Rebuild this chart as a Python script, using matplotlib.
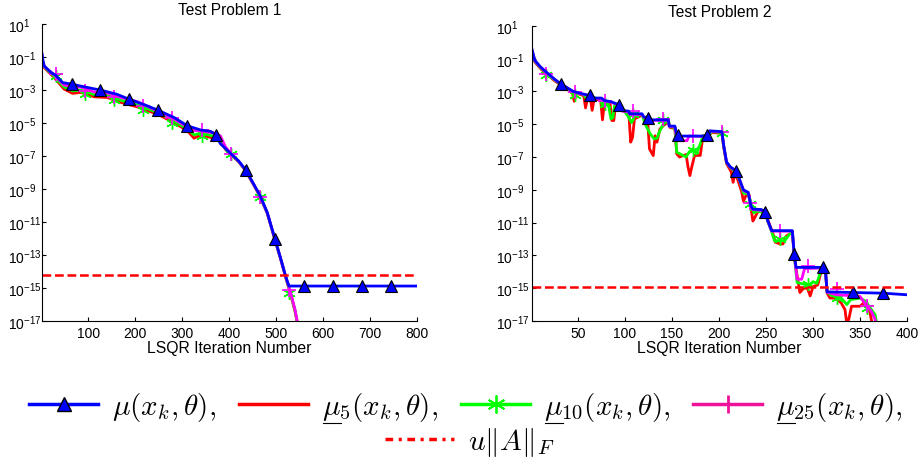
import numpy as np
import matplotlib
matplotlib.use("Agg")
import matplotlib.pyplot as plt
from matplotlib.lines import Line2D
from matplotlib.ticker import FixedLocator, FuncFormatter, NullLocator

plt.rcParams['font.family'] = 'Liberation Sans'
plt.rcParams['mathtext.fontset'] = 'cm'

# All y values below are log10 of the plotted quantity.

# ---------------- Test Problem 1 ----------------
p1_mu_x = [1, 3, 6, 20, 30, 45, 64, 90, 125, 160, 186, 220, 248, 282, 311, 340, 360, 372,
           381, 392, 405, 420, 435, 452, 466, 481, 497, 509, 520, 527, 800]
p1_mu = [-0.8, -1.2, -1.55, -1.93, -2.1, -2.55, -2.64, -2.8, -3.0, -3.25, -3.55, -3.9, -4.22,
         -4.66, -5.17, -5.43, -5.5, -5.72, -6.25, -6.55, -6.9, -7.3, -7.84, -8.7, -9.42,
         -10.43, -12.0, -13.16, -14.27, -14.88, -14.88]

p1_low_x = [1, 3, 6, 27, 48, 66, 84, 112, 140, 169, 204, 247, 282, 311, 325, 339, 367, 381,
            392, 405, 420, 435, 452, 466, 481, 497, 509, 520, 530, 540, 548]
p1_mu5 = [-1.0, -1.4, -1.65, -2.24, -2.94, -3.2, -3.14, -3.41, -3.45, -3.75, -4.02, -4.46,
          -4.97, -5.47, -5.92, -5.72, -5.92, -5.96, -6.6, -6.95, -7.35, -7.9, -8.75, -9.47,
          -10.48, -12.05, -13.2, -14.35, -15.3, -16.4, -17.5]
p1_mu10 = [-0.95, -1.35, -1.6, -2.17, -2.82, -3.05, -3.0, -3.28, -3.32, -3.62, -3.9, -4.36,
           -4.87, -5.38, -5.72, -5.6, -5.8, -5.9, -6.57, -6.93, -7.33, -7.88, -8.73, -9.45,
           -10.46, -12.03, -13.18, -14.3, -15.25, -16.35, -17.5]
p1_mu25 = [-0.88, -1.3, -1.58, -2.08, -2.7, -2.8, -2.82, -3.12, -3.18, -3.45, -3.7, -4.28,
           -4.75, -5.25, -5.45, -5.48, -5.6, -5.78, -6.45, -6.9, -7.32, -7.86, -8.72, -9.44,
           -10.45, -12.02, -13.17, -14.3, -15.2, -16.3, -17.5]

p1_tri_x = [64, 125, 186, 248, 311, 372, 435, 497, 559, 621, 683, 745]
p1_tri = [-2.64, -3.0, -3.55, -4.22, -5.17, -5.72, -7.84, -12.0, -14.88, -14.88, -14.88, -14.88]
p1_sym_x = [31, 93, 155, 216, 279, 342, 403, 466, 528]
p1_star = [-2.14, -3.25, -3.61, -4.22, -4.97, -5.78, -6.89, -9.5, -15.28]
p1_plus = [-2.03, -3.05, -3.43, -3.96, -4.7, -5.43, -6.85, -9.48, -15.1]
p1_tol = -14.24

# ---------------- Test Problem 2 ----------------
p2_mu_x = [1, 4, 10, 16, 25, 31.6, 45, 55, 62.5, 65, 75, 78, 85, 93.7, 97, 104, 105, 118, 120,
           124.6, 128, 146, 147, 153, 155, 157, 189, 190, 203, 205, 208, 212, 218, 222, 226,
           231, 234, 236, 245, 249, 252, 256, 278, 280, 282, 313, 315, 340, 374, 400]
p2_mu = [-0.45, -1.1, -1.5, -1.81, -2.25, -2.53, -3.0, -3.15, -3.24, -3.4, -3.4, -3.55, -3.62,
         -3.81, -4.16, -4.2, -4.36, -4.36, -4.55, -4.62, -4.73, -4.73, -5.11, -5.11, -5.6,
         -5.72, -5.72, -5.4, -5.45, -6.3, -7.3, -7.6, -7.83, -8.4, -9.0, -9.15, -10.0, -10.17,
         -10.2, -10.33, -10.9, -11.49, -11.49, -12.92, -13.73, -13.73, -15.22, -15.26, -15.3,
         -15.4]

p2_mu5_x = [1, 4, 10, 16, 25, 31.6, 44, 46, 48, 56, 58, 60, 63, 65, 67, 74, 76, 78, 84, 86,
            88, 90, 95, 99, 104, 106, 108, 110, 118, 124, 126, 130, 132, 134, 137, 141, 146,
            148, 153, 155, 158, 162, 165, 167, 169, 171, 174, 180, 183, 189, 192, 203, 205,
            208, 213, 215, 217, 220, 224, 226, 229, 232, 234, 236, 238, 241, 245, 250, 253,
            257, 260, 265, 268, 272, 278, 280, 283, 286, 290, 294, 297, 300, 305, 309, 313,
            315, 318, 324, 330, 334, 336, 338, 341, 350, 356, 360, 364]
p2_mu5 = [-0.55, -1.2, -1.6, -1.9, -2.35, -2.6, -3.1, -3.6, -3.1, -3.25, -4.0, -3.4, -3.4,
          -4.15, -3.5, -3.5, -4.73, -3.7, -3.7, -4.77, -4.77, -3.8, -3.9, -4.2, -4.3, -6.09,
          -5.8, -4.67, -4.45, -4.75, -6.5, -6.91, -5.7, -6.09, -5.3, -5.07, -4.85, -5.2, -5.25,
          -6.8, -7.0, -6.9, -6.85, -7.6, -8.13, -7.6, -6.9, -6.9, -5.69, -5.72, -5.5, -5.55,
          -6.4, -7.4, -7.9, -8.54, -7.95, -8.4, -9.1, -9.7, -9.3, -9.3, -10.1, -10.9, -10.7,
          -10.35, -10.3, -10.5, -11.0, -11.6, -12.2, -12.3, -12.3, -11.8, -11.6, -13.0, -14.2,
          -15.26, -15.0, -15.0, -15.47, -14.9, -14.8, -13.9, -13.8, -15.3, -15.6, -15.6, -15.9,
          -16.3, -17.2, -16.9, -16.1, -16.1, -15.8, -16.3, -17.5]

p2_mu10_x = [1, 4, 10, 16, 25, 31.6, 44, 46, 48, 56, 60, 63, 74, 76, 78, 82, 85, 87, 89, 95,
             99, 103, 107, 110, 118, 122, 127, 131, 134, 137, 141, 146, 148, 153, 155, 160,
             165, 168, 172, 176, 180, 183, 189, 192, 203, 205, 208, 213, 218, 222, 226, 231,
             235, 237, 241, 249, 252, 256, 259, 265, 270, 275, 278, 280, 283, 290, 296, 300,
             304, 308, 313, 315, 320, 330, 336, 340, 350, 356, 362, 366, 369]
p2_mu10 = [-0.5, -1.15, -1.55, -1.85, -2.3, -2.57, -3.05, -3.3, -3.05, -3.2, -3.5, -3.35,
           -3.45, -3.9, -3.62, -3.7, -4.67, -4.6, -3.8, -3.85, -4.18, -4.5, -4.9, -4.5, -4.4,
           -5.07, -5.6, -5.89, -5.85, -5.4, -4.95, -4.8, -5.15, -5.2, -6.7, -6.85, -7.0, -6.7,
           -6.5, -6.8, -6.2, -5.7, -5.72, -5.45, -5.5, -6.35, -7.35, -7.7, -7.9, -8.45, -9.2,
           -9.25, -10.1, -10.4, -10.3, -10.4, -10.95, -11.55, -12.1, -12.1, -12.1, -11.7,
           -11.55, -12.95, -14.65, -14.75, -14.85, -14.6, -14.7, -14.0, -13.8, -15.25, -15.45,
           -15.6, -16.0, -15.7, -15.6, -15.8, -16.3, -16.6, -17.5]

p2_mu25_x = [1, 4, 10, 16, 25, 31.6, 45, 55, 62.5, 65, 75, 78, 85, 93.7, 97, 104, 105, 118,
             120, 124.6, 128, 146, 147, 153, 155, 166, 168, 189, 190, 203, 205, 208, 212, 218,
             222, 226, 231, 234, 236, 245, 249, 252, 256, 278, 280, 283, 288, 291, 313, 315,
             325, 340, 350, 357, 362, 366, 368]
p2_mu25 = [-0.47, -1.12, -1.52, -1.82, -2.27, -2.55, -3.02, -3.17, -3.27, -3.42, -3.45,
           -3.58, -3.65, -3.84, -4.2, -4.25, -4.4, -4.4, -4.58, -4.65, -4.76, -4.76, -5.13,
           -5.15, -6.0, -6.0, -5.72, -5.74, -5.42, -5.47, -6.32, -7.32, -7.62, -7.85, -8.42,
           -9.05, -9.18, -10.02, -10.2, -10.25, -10.36, -10.92, -11.52, -11.52, -12.94, -14.45,
           -14.45, -13.8, -13.76, -15.25, -15.4, -15.45, -15.5, -16.08, -16.4, -16.9, -17.5]

p2_tri_x = [31.6, 62.5, 93.7, 124.6, 156, 187.5, 218, 249, 280, 311, 342.4, 374]
p2_tri = [-2.53, -3.24, -3.81, -4.62, -5.64, -5.64, -7.83, -10.33, -12.92, -13.73, -15.26,
          -15.3]
p2_sym_x = [16.3, 46.6, 78.5, 108.7, 140.7, 172, 203, 233, 265, 295, 325.5, 357.5]
p2_star = [-1.98, -3.24, -3.76, -4.36, -4.71, -6.54, -5.54, -9.86, -12.0, -14.75, -15.57,
           -16.18]
p2_plus = [-1.92, -3.04, -3.55, -4.16, -4.67, -5.69, -5.48, -9.8, -11.53, -13.63, -15.06,
           -16.08]
p2_tol = -14.9

BLUE = '#0000ff'
RED = '#ff0000'
GREEN = '#00ff00'
MAGENTA = '#ff00ff'
LW = 2.0
STAR = (6, 2, 0)
W, H = 921, 464
LEG_FS = 21


def pw(v):
    return 10.0 ** np.asarray(v, dtype=float)


def sci_label(v, pos):
    e = int(round(np.log10(v)))
    return r'$\mathregular{10^{%d}}$' % e


def draw_panel(ax, mu5, mu10, mu25, mu, tri, stars, pluses, tol, xmax, xticks, title, ypad):
    ax.plot(mu5[0], pw(mu5[1]), color=RED, lw=LW)
    ax.plot(mu10[0], pw(mu10[1]), color=GREEN, lw=LW)
    ax.plot(stars[0], pw(stars[1]), ls='none', marker=STAR, ms=9, mec=GREEN, mew=1.0)
    ax.plot(mu25[0], pw(mu25[1]), color=MAGENTA, lw=LW)
    ax.plot(pluses[0], pw(pluses[1]), ls='none', marker='+', ms=10, mec=MAGENTA, mew=1.2)
    ax.plot(mu[0], pw(mu[1]), color=BLUE, lw=LW)
    ax.plot(tri[0], pw(tri[1]), ls='none', marker='^', ms=8, mfc=BLUE, mec='k', mew=0.8)
    ax.axhline(10.0 ** tol, color=RED, lw=1.8, dashes=(3.5, 1.5))

    ax.set_yscale('log')
    ax.set_ylim(1e-17, 10)
    ax.set_xlim(1, xmax)
    ax.yaxis.set_major_locator(FixedLocator(10.0 ** np.arange(1, -18, -2)))
    ax.yaxis.set_minor_locator(NullLocator())
    ax.yaxis.set_major_formatter(FuncFormatter(sci_label))
    ax.set_xticks(xticks)
    ax.tick_params(direction='in', length=3, labelsize=10, width=0.8)
    ax.tick_params(axis='y', pad=ypad)
    for lab in ax.get_yticklabels():
        lab.set_horizontalalignment('left')
    for s in ('top', 'right'):
        ax.spines[s].set_visible(False)
    ax.set_title(title, fontsize=11.2, pad=7)
    ax.set_xlabel('LSQR Iteration Number', fontsize=11.3, labelpad=0)


fig = plt.figure(figsize=(W / 100, H / 100), dpi=100)
ax1 = fig.add_axes([42 / W, 0.306, 375 / W, 0.640])
ax2 = fig.add_axes([532 / W, 0.306, 375 / W, 0.636])

draw_panel(ax1, (p1_low_x, p1_mu5), (p1_low_x, p1_mu10), (p1_low_x, p1_mu25),
           (p1_mu_x, p1_mu), (p1_tri_x, p1_tri), (p1_sym_x, p1_star), (p1_sym_x, p1_plus),
           p1_tol, 800, [100, 200, 300, 400, 500, 600, 700, 800], 'Test Problem 1', 24.5)
draw_panel(ax2, (p2_mu5_x, p2_mu5), (p2_mu10_x, p2_mu10), (p2_mu25_x, p2_mu25),
           (p2_mu_x, p2_mu), (p2_tri_x, p2_tri), (p2_sym_x, p2_star), (p2_sym_x, p2_plus),
           p2_tol, 400, [50, 100, 150, 200, 250, 300, 350, 400], 'Test Problem 2', 26)

# legend (mathtext has no \underline, so the underline under mu is drawn after layout)
labels = [r'$\mu(x_k,\theta),$', r'$\mu_5(x_k,\theta),$',
          r'$\mu_{10}(x_k,\theta),$', r'$\mu_{25}(x_k,\theta),$']
handles = [
    Line2D([], [], color=BLUE, lw=2.5, marker='^', ms=10, mfc=BLUE, mec='k'),
    Line2D([], [], color=RED, lw=2.5),
    Line2D([], [], color=GREEN, lw=2.5, marker=STAR, ms=13, mec=GREEN, mew=1.3),
    Line2D([], [], color='#ee1199', lw=2.5, marker='+', ms=13, mec='#ee1199', mew=2),
]
leg1 = fig.legend(handles, labels, ncol=4, loc='center', bbox_to_anchor=(466 / W, 1 - 408 / H),
                  frameon=False, fontsize=LEG_FS, handlelength=2.36, columnspacing=0.78,
                  handletextpad=0.48, borderpad=0)
fig.legend([Line2D([], [], color=RED, lw=2.5, ls=(0, (2.2, 1.6, 0.9, 1.6)))],
           [r'$u\Vert A\Vert_F$'], loc='center', bbox_to_anchor=(470 / W, 1 - 443 / H),
           frameon=False, fontsize=LEG_FS, handlelength=2.36, handletextpad=0.48, borderpad=0)

fig.canvas.draw()
renderer = fig.canvas.get_renderer()
tmp = fig.text(0, 0, r'$\mu$', fontsize=LEG_FS)
mu_w = tmp.get_window_extent(renderer).width
tmp.remove()
texts = leg1.get_texts()
base_y = texts[0].get_window_extent(renderer).y0 + 1
for t in texts[1:]:
    bb = t.get_window_extent(renderer)
    fig.add_artist(Line2D([(bb.x0 + 1) / W, (bb.x0 + mu_w) / W], [base_y / H, base_y / H],
                          transform=fig.transFigure, color='k', lw=0.8))

fig.savefig('out.png', dpi=100)
